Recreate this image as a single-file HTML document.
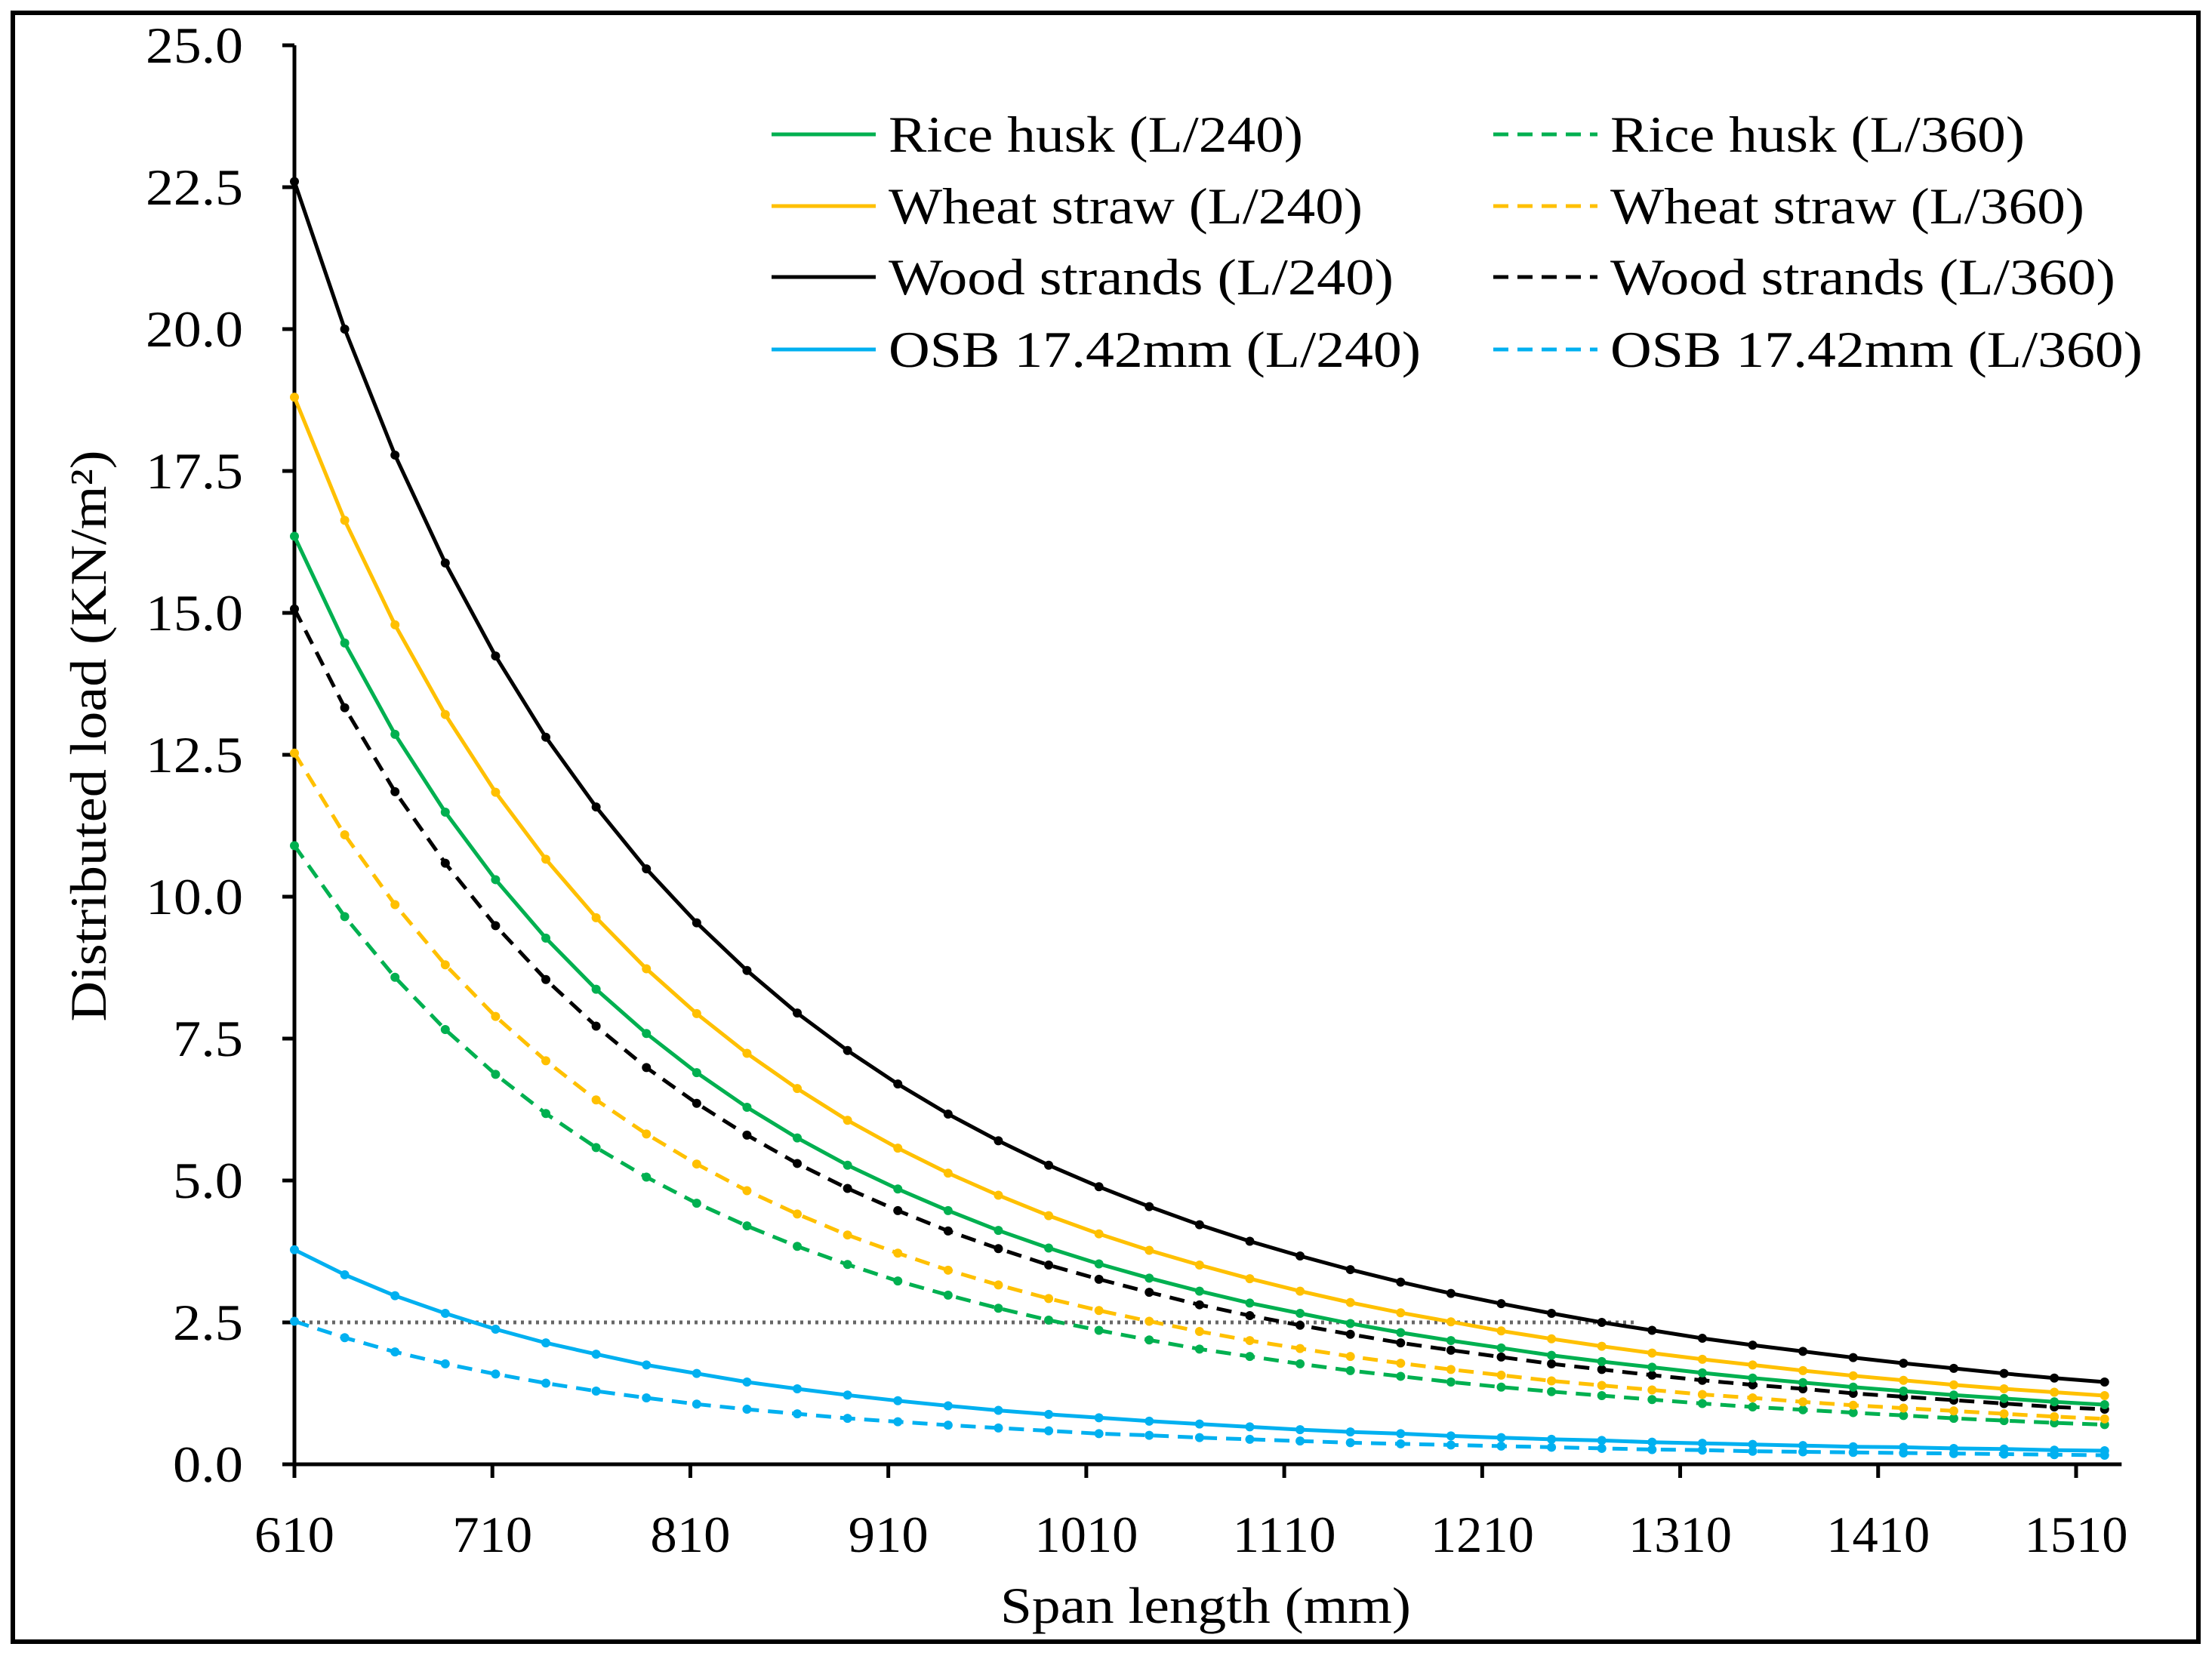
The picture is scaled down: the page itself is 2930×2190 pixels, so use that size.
<!DOCTYPE html>
<html><head><meta charset="utf-8"><style>
html,body{margin:0;padding:0;background:#fff}
svg{display:block}
text{font-family:"Liberation Serif",serif;fill:#000}
</style></head><body>
<svg id="chart" width="2930" height="2190" viewBox="0 0 2930 2190" xmlns="http://www.w3.org/2000/svg">
<rect x="17" y="17" width="2895" height="2158" fill="#fff" stroke="#000" stroke-width="6"/>
<g id="axes"></g>
<g id="series"></g>
<g id="legend"></g>
<text x="1597" y="2150" font-size="68" text-anchor="middle" textLength="544" lengthAdjust="spacingAndGlyphs">Span length (mm)</text>
<text transform="translate(140,975) rotate(-90)" font-size="68" text-anchor="middle" textLength="757" lengthAdjust="spacingAndGlyphs">Distributed load (KN/m²)</text>
</svg>
<script>
const spans = [610,635.4,660.8,686.2,711.6,737,762.4,787.8,813.2,838.6,864,889.4,914.8,940.2,965.6,991,1016.4,1041.8,1067.2,1092.6,1118,1143.4,1168.8,1194.2,1219.6,1245,1270.4,1295.8,1321.2,1346.6,1372,1397.4,1422.8,1448.2,1473.6,1499,1524.4];
const woodL240 = [22.60,20.00,17.78,15.88,14.24,12.81,11.58,10.49,9.54,8.70,7.95,7.29,6.70,6.17,5.70,5.27,4.89,4.54,4.22,3.93,3.67,3.43,3.21,3.01,2.83,2.66,2.50,2.36,2.22,2.10,1.99,1.88,1.78,1.69,1.60,1.52,1.45];
const woodL360 = [15.07,13.33,11.85,10.59,9.49,8.54,7.72,6.99,6.36,5.80,5.30,4.86,4.47,4.11,3.80,3.51,3.26,3.03,2.81,2.62,2.45,2.29,2.14,2.01,1.89,1.77,1.67,1.57,1.48,1.40,1.33,1.25,1.19,1.13,1.07,1.01,0.97];
const wheatL240 = [18.80,16.63,14.79,13.21,11.84,10.66,9.63,8.73,7.94,7.24,6.62,6.06,5.57,5.13,4.74,4.38,4.06,3.77,3.51,3.27,3.05,2.85,2.67,2.51,2.35,2.21,2.08,1.96,1.85,1.75,1.65,1.56,1.48,1.40,1.33,1.27,1.21];
const wheatL360 = [12.53,11.09,9.86,8.80,7.89,7.11,6.42,5.82,5.29,4.82,4.41,4.04,3.72,3.42,3.16,2.92,2.71,2.52,2.34,2.18,2.04,1.90,1.78,1.67,1.57,1.47,1.39,1.31,1.23,1.17,1.10,1.04,0.99,0.94,0.89,0.84,0.80];
const riceL240 = [16.35,14.47,12.86,11.49,10.30,9.27,8.37,7.59,6.90,6.29,5.75,5.27,4.85,4.47,4.12,3.81,3.53,3.28,3.05,2.84,2.66,2.48,2.32,2.18,2.05,1.92,1.81,1.71,1.61,1.52,1.44,1.36,1.29,1.22,1.16,1.10,1.05];
const riceL360 = [10.90,9.65,8.58,7.66,6.87,6.18,5.58,5.06,4.60,4.20,3.84,3.52,3.23,2.98,2.75,2.54,2.36,2.19,2.03,1.90,1.77,1.65,1.55,1.45,1.36,1.28,1.21,1.14,1.07,1.01,0.96,0.91,0.86,0.81,0.77,0.73,0.70];
const osbL240 = [3.78,3.34,2.97,2.66,2.38,2.14,1.94,1.75,1.60,1.45,1.33,1.22,1.12,1.03,0.95,0.88,0.82,0.76,0.71,0.66,0.61,0.57,0.54,0.50,0.47,0.44,0.42,0.39,0.37,0.35,0.33,0.31,0.30,0.28,0.27,0.25,0.24];
const osbL360 = [2.52,2.23,1.98,1.77,1.59,1.43,1.29,1.17,1.06,0.97,0.89,0.81,0.75,0.69,0.64,0.59,0.54,0.51,0.47,0.44,0.41,0.38,0.36,0.34,0.32,0.30,0.28,0.26,0.25,0.23,0.22,0.21,0.20,0.19,0.18,0.17,0.16];
const yTicks = [0,2.5,5,7.5,10,12.5,15,17.5,20,22.5,25];
const yTickLabels = ["0.0","2.5","5.0","7.5","10.0","12.5","15.0","17.5","20.0","22.5","25.0"];
const xTicks = [610,710,810,910,1010,1110,1210,1310,1410,1510];
const xTickLabels = ["610","710","810","910","1010","1110","1210","1310","1410","1510"];
const referenceLoad = [2.5];
const referenceSpanEnd = [1287];

const NS = "http://www.w3.org/2000/svg";
const X0 = 390, PXMM = 2.6222, Y0 = 1940, PXU = 75.2;
function sx(v){ return X0 + (v - 610) * PXMM; }
function sy(v){ return Y0 - v * PXU; }
function mk(tag, attrs, parent){ const e = document.createElementNS(NS, tag); for (const k in attrs) e.setAttribute(k, attrs[k]); parent.appendChild(e); return e; }

const axes = document.getElementById('axes');
let yl = mk('line', {x1:X0, y1:sy(25), x2:X0, y2:Y0, stroke:'#000', 'stroke-width':5}, axes);


let xl = mk('line', {x1:X0-16, y1:Y0, x2:sx(1533), y2:Y0, stroke:'#000', 'stroke-width':5}, axes);


yTicks.forEach((v, i) => {
  const t = mk('line', {x1:X0-16, y1:sy(v), x2:X0, y2:sy(v), stroke:'#000', 'stroke-width':5}, axes);
  
  
  const lab = yTickLabels[i];
  const tx = mk('text', {x:322, y:sy(v)+23, 'font-size':68, 'text-anchor':'end', textLength: lab.length === 3 ? 93 : 129, lengthAdjust:'spacingAndGlyphs'}, axes);
  tx.textContent = lab;
  
  
});
xTicks.forEach((v, i) => {
  const t = mk('line', {x1:sx(v), y1:Y0, x2:sx(v), y2:Y0+18, stroke:'#000', 'stroke-width':5}, axes);
  
  
  const lab = xTickLabels[i];
  const tx = mk('text', {x:sx(v), y:2056, 'font-size':68, 'text-anchor':'middle', textLength: lab.length === 3 ? 106 : 137, lengthAdjust:'spacingAndGlyphs'}, axes);
  tx.textContent = lab;
  
  
});
let ref = mk('line', {x1:X0, y1:sy(referenceLoad[0]), x2:sx(referenceSpanEnd[0]), y2:sy(referenceLoad[0]), stroke:'#666', 'stroke-width':5, 'stroke-dasharray':'4 6'}, axes);



const seriesDefs = [
  {vals: osbL360, color:'#00b0f0', dash:true, name:'osb-l360'},
  {vals: osbL240, color:'#00b0f0', dash:false, name:'osb-l240'},
  {vals: riceL360, color:'#00b050', dash:true, name:'rice-husk-l360'},
  {vals: wheatL360, color:'#ffc000', dash:true, name:'wheat-straw-l360'},
  {vals: woodL360, color:'#000000', dash:true, name:'wood-strands-l360'},
  {vals: riceL240, color:'#00b050', dash:false, name:'rice-husk-l240'},
  {vals: wheatL240, color:'#ffc000', dash:false, name:'wheat-straw-l240'},
  {vals: woodL240, color:'#000000', dash:false, name:'wood-strands-l240'}
];
const sg = document.getElementById('series');
seriesDefs.forEach(s => {
  const g = mk('g', {}, sg);
  
  
  const pts = s.vals.map((v, i) => sx(spans[i]).toFixed(1) + ',' + sy(v).toFixed(1)).join(' ');
  const attrs = {points: pts, fill:'none', stroke:s.color, 'stroke-width':5, 'stroke-linejoin':'round'};
  if (s.dash) attrs['stroke-dasharray'] = '20 12';
  const pl = mk('polyline', attrs, g);
  
  
  s.vals.forEach((v, i) => {
    const c = mk('circle', {cx:sx(spans[i]), cy:sy(v), r:6, fill:s.color}, g);
    
    
  });
});

const legendItems = [
  {label:'Rice husk (L/240)', color:'#00b050', dash:false, col:0, row:0, w:549},
  {label:'Wheat straw (L/240)', color:'#ffc000', dash:false, col:0, row:1, w:628},
  {label:'Wood strands (L/240)', color:'#000000', dash:false, col:0, row:2, w:669},
  {label:'OSB 17.42mm (L/240)', color:'#00b0f0', dash:false, col:0, row:3, w:705},
  {label:'Rice husk (L/360)', color:'#00b050', dash:true, col:1, row:0, w:549},
  {label:'Wheat straw (L/360)', color:'#ffc000', dash:true, col:1, row:1, w:628},
  {label:'Wood strands (L/360)', color:'#000000', dash:true, col:1, row:2, w:669},
  {label:'OSB 17.42mm (L/360)', color:'#00b0f0', dash:true, col:1, row:3, w:705}
];
const lg = document.getElementById('legend');
const colLine = [1022, 1978], colText = [1177, 2133], rowY = [178, 273, 367, 463];
legendItems.forEach(it => {
  const g = mk('g', {}, lg);
  
  
  const la = {x1:colLine[it.col], y1:rowY[it.row], x2:colLine[it.col]+138, y2:rowY[it.row], stroke:it.color, 'stroke-width':5};
  if (it.dash) la['stroke-dasharray'] = '20 12';
  const l = mk('line', la, g);
  
  
  const t = mk('text', {x:colText[it.col], y:rowY[it.row]+23, 'font-size':68, textLength:it.w, lengthAdjust:'spacingAndGlyphs'}, g);
  t.textContent = it.label;
  
  
});
</script>
</body></html>
